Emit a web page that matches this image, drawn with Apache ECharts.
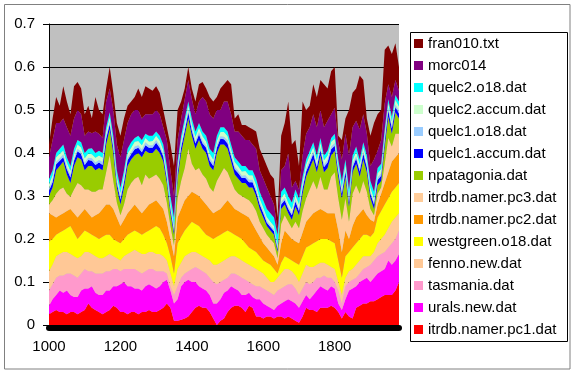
<!DOCTYPE html>
<html>
<head>
<meta charset="utf-8">
<script src="https://cdn.jsdelivr.net/npm/echarts@6/dist/echarts.min.js"></script>
<style>html,body{margin:0;padding:0;background:#fff}#c{width:576px;height:374px}</style>
</head>
<body>
<div id="c"></div>
<script>
var years = [1000,1010,1020,1030,1040,1050,1060,1070,1080,1090,1100,1110,1120,1130,1140,1150,1160,1170,1180,1190,1200,1210,1220,1230,1240,1250,1260,1270,1280,1290,1300,1310,1320,1330,1340,1350,1360,1370,1380,1390,1400,1410,1420,1430,1440,1450,1460,1470,1480,1490,1500,1510,1520,1530,1540,1550,1560,1570,1580,1590,1600,1610,1620,1630,1640,1650,1660,1670,1680,1690,1700,1710,1720,1730,1740,1750,1760,1770,1780,1790,1800,1810,1820,1830,1840,1850,1860,1870,1880,1890,1900,1910,1920,1930,1940,1950,1960,1970,1980];
var xTickLabels = ['1000','1200','1400','1600','1800'];
var yTickLabels = ['0','0.1','0.2','0.3','0.4','0.5','0.6','0.7'];

var itrdbNamerPc1 = [.025,.03,.035,.03,.03,.025,.03,.03,.025,.03,
 .035,.05,.04,.035,.03,.025,.03,.035,.045,.04,
 .03,.03,.025,.03,.03,.025,.03,.03,.035,.03,
 .03,.035,.04,.05,.04,.01,.01,.012,.015,.02,
 .03,.04,.045,.04,.04,.03,.015,0,.01,.015,
 .03,.04,.045,.045,.04,.03,.045,.04,.02,.02,
 .015,.02,.02,.015,.02,.02,.015,.02,.015,.01,
 .005,.02,.04,.035,.035,.03,.04,.04,.04,.045,
 .04,.03,.015,.03,.02,.015,.04,.045,.05,.05,
 .055,.055,.06,.065,.07,.07,.07,.08,.10];
var uralsNew = [.02,.03,.035,.05,.045,.055,.04,.035,.04,.05,
 .05,.035,.05,.04,.04,.045,.05,.045,.045,.05,
 .065,.07,.065,.06,.055,.06,.05,.06,.06,.06,
 .055,.055,.06,.055,.04,.04,.05,.078,.085,.085,
 .07,.06,.045,.045,.04,.04,.035,.05,.05,.06,
 .05,.05,.04,.035,.03,.04,.03,.025,.04,.04,
 .035,.025,.02,.02,.025,.03,.04,.04,.04,.04,
 .035,.035,.03,.025,.035,.05,.05,.045,.04,.045,
 .045,.02,.02,.03,.06,.07,.05,.055,.055,.06,
 .045,.055,.06,.06,.06,.08,.07,.07,.065];
var tasmania = [.035,.035,.04,.035,.04,.04,.05,.05,.045,.04,
 .045,.04,.035,.045,.05,.05,.045,.045,.04,.04,
 .03,.03,.04,.04,.045,.04,.04,.035,.035,.04,
 .04,.035,.025,.015,.01,.02,.03,.02,.02,.02,
 .03,.035,.04,.04,.04,.04,.05,.045,.04,.03,
 .03,.03,.035,.035,.04,.035,.025,.03,.03,.03,
 .035,.035,.035,.035,.035,.035,.035,.035,.04,.035,
 .03,.03,.03,.035,.03,.03,.02,.03,.03,.02,
 .015,.03,.015,.03,.02,.02,.02,.02,.025,.025,
 .04,.04,.04,.04,.04,.03,.05,.05,.055];
var fennoNew = [.045,.045,.05,.05,.055,.05,.045,.045,.045,.04,
 .04,.045,.04,.04,.035,.035,.035,.04,.03,.025,
 .025,.03,.035,.04,.045,.045,.045,.04,.04,.04,
 .04,.04,.035,.03,.03,.02,.04,.035,.04,.04,
 .04,.035,.035,.035,.035,.04,.04,.045,.045,.045,
 .045,.04,.04,.04,.04,.04,.04,.04,.04,.035,
 .035,.03,.025,.03,.03,.035,.04,.035,.03,.03,
 .03,.035,.04,.04,.035,.03,.035,.03,.03,.025,
 .03,.02,.02,.02,.025,.025,.03,.03,.03,.025,
 .02,.02,.03,.035,.04,.045,.05,.05,.04];
var westgreenO18 = [.07,.06,.05,.05,.05,.055,.065,.055,.045,.05,
 .05,.045,.045,.045,.045,.05,.05,.045,.04,.04,
 .04,.04,.045,.045,.045,.045,.045,.05,.05,.055,
 .065,.06,.05,.04,.04,.03,.06,.06,.06,.065,
 .07,.065,.065,.06,.055,.055,.06,.065,.065,.065,
 .065,.055,.05,.05,.05,.045,.04,.04,.04,.035,
 .03,.035,.04,.03,.01,.025,.03,.025,.025,.03,
 .04,.04,.04,.05,.055,.055,.055,.055,.06,.06,
 .06,.05,.04,.05,.045,.05,.05,.05,.05,.05,
 .045,.045,.06,.065,.07,.07,.07,.07,.07];
var itrdbNamerPc2 = [.065,.055,.04,.04,.04,.04,.04,.045,.05,.05,
 .05,.045,.04,.05,.06,.065,.07,.07,.07,.055,
 .04,.045,.05,.055,.06,.055,.05,.055,.06,.06,
 .06,.055,.06,.05,.04,.04,.06,.065,.07,.07,
 .07,.07,.07,.07,.07,.065,.06,.06,.06,.065,
 .07,.065,.06,.06,.06,.065,.07,.06,.05,.045,
 .04,.035,.03,.03,.02,.045,.06,.055,.05,.05,
 .05,.055,.06,.065,.07,.07,.07,.065,.06,.065,
 .07,.07,.06,.06,.03,.05,.06,.06,.06,.045,
 .04,.025,.03,.04,.05,.06,.07,.07,.07];
var itrdbNamerPc3 = [.02,.035,.055,.06,.06,.04,.028,.055,.08,.065,
 .045,.055,.06,.055,.055,.045,.075,.115,.065,.035,
 .025,.035,.055,.06,.06,.075,.065,.08,.06,.06,
 .06,.06,.055,.045,.03,.025,.045,.065,.075,.11,
 .065,.055,.065,.06,.06,.05,.05,.07,.08,.085,
 .065,.055,.045,.04,.04,.04,.04,.045,.045,.035,
 .035,.03,.03,.03,.015,.045,.035,.03,.025,.045,
 .035,.05,.055,.065,.075,.05,.075,.05,.055,.085,
 .095,.075,.075,.075,.04,.075,.075,.045,.065,.055,
 .025,.015,.025,.015,.045,.08,.035,.055,.045];
var npatagonia = [.02,.03,.055,.055,.06,.045,.032,.055,.06,.06,
 .045,.055,.06,.05,.05,.045,.065,.06,.065,.035,
 .025,.04,.055,.055,.055,.055,.065,.055,.06,.055,
 .06,.06,.055,.045,.03,.025,.045,.065,.075,.07,
 .065,.05,.065,.06,.06,.05,.05,.065,.07,.055,
 .055,.045,.035,.035,.03,.035,.03,.04,.035,.03,
 .025,.02,.02,.02,.015,.035,.025,.02,.02,.035,
 .03,.04,.05,.05,.05,.04,.05,.04,.05,.05,
 .05,.05,.05,.05,.035,.05,.05,.04,.05,.045,
 .025,.015,.02,.015,.04,.05,.03,.05,.035];
var quelc1Accum = [.012,.012,.014,.012,.01,.012,.013,.012,.014,.012,
 .012,.014,.012,.012,.013,.012,.014,.012,.012,.01,
 .012,.012,.013,.012,.014,.012,.012,.013,.012,.012,
 .014,.012,.012,.01,.01,.008,.012,.013,.012,.014,
 .012,.012,.013,.012,.012,.012,.01,.012,.013,.012,
 .012,.012,.012,.013,.012,.012,.012,.012,.01,.01,
 .01,.008,.008,.008,.006,.01,.01,.01,.01,.012,
 .01,.012,.012,.012,.013,.012,.012,.012,.013,.014,
 .012,.012,.01,.012,.01,.012,.012,.012,.013,.012,
 .01,.01,.012,.012,.013,.014,.012,.012,.012];
var quelc1O18 = [.006,.006,.005,.006,.007,.006,.006,.005,.006,.006,
 .006,.005,.006,.006,.006,.007,.006,.006,.005,.006,
 .006,.006,.006,.005,.006,.006,.006,.007,.006,.006,
 .006,.006,.005,.006,.006,.005,.006,.006,.006,.007,
 .006,.006,.006,.006,.005,.006,.006,.006,.006,.006,
 .007,.006,.006,.006,.005,.006,.006,.006,.006,.005,
 .005,.005,.004,.004,.004,.006,.006,.005,.005,.006,
 .006,.006,.006,.007,.006,.006,.006,.006,.006,.006,
 .006,.005,.006,.006,.005,.006,.006,.006,.006,.006,
 .005,.005,.006,.006,.006,.007,.006,.006,.006];
var quelc2Accum = [.01,.01,.011,.01,.009,.01,.01,.011,.01,.01,
 .01,.01,.009,.011,.01,.01,.01,.011,.01,.01,
 .009,.01,.01,.01,.011,.01,.01,.01,.009,.01,
 .01,.011,.01,.01,.009,.008,.01,.01,.011,.01,
 .01,.01,.01,.011,.01,.01,.009,.01,.01,.011,
 .01,.01,.011,.01,.01,.01,.01,.01,.009,.009,
 .008,.008,.008,.008,.006,.01,.01,.009,.009,.01,
 .009,.01,.01,.011,.01,.01,.011,.01,.01,.011,
 .01,.01,.009,.01,.009,.01,.01,.011,.01,.01,
 .009,.009,.01,.01,.011,.01,.01,.011,.01];
var quelc2O18 = [.012,.012,.01,.012,.014,.012,.011,.012,.01,.012,
 .012,.011,.014,.011,.011,.011,.01,.011,.013,.014,
 .013,.012,.011,.013,.009,.012,.012,.01,.013,.012,
 .01,.011,.013,.014,.015,.019,.012,.011,.011,.009,
 .012,.012,.011,.011,.013,.012,.015,.012,.011,.011,
 .011,.012,.011,.011,.013,.012,.012,.012,.015,.016,
 .017,.019,.02,.02,.024,.014,.014,.016,.016,.012,
 .015,.012,.012,.01,.011,.012,.011,.012,.011,.009,
 .012,.013,.015,.012,.016,.012,.012,.011,.011,.012,
 .016,.016,.012,.012,.01,.009,.012,.011,.012];
var morc014 = [.05,.07,.07,.06,.06,.07,.07,.07,.07,.065,
 .04,.04,.035,.05,.04,.035,.06,.055,.06,.06,
 .07,.07,.06,.065,.065,.06,.05,.045,.05,.05,
 .05,.05,.04,.06,.06,.05,.05,.04,.045,.05,
 .045,.04,.05,.08,.08,.08,.08,.06,.04,.06,
 .07,.07,.06,.07,.07,.06,.07,.06,.07,.05,
 .05,.05,.04,.03,.01,.05,.05,.10,.035,.02,
 .02,.05,.06,.055,.065,.065,.065,.065,.07,.055,
 .06,.04,.05,.06,.08,.065,.06,.07,.065,.05,
 .035,.075,.04,.055,.06,.035,.045,.035,.025];
var fran010 = [.03,.05,.06,.04,.075,.06,.05,.075,.065,.06,
 .05,.06,.035,.08,.055,.055,.03,.05,.04,.05,
 .05,.05,.04,.03,.03,.05,.05,.065,.06,.055,
 .055,.05,.04,.03,.06,.07,.07,.04,.025,.03,
 .025,.03,.04,.035,.03,.04,.04,.03,.05,.04,
 .05,.07,.03,.04,.025,.035,.03,.035,.04,.05,
 .05,.05,.05,.06,.03,.08,.10,.12,.10,.095,
 .055,.125,.055,.05,.07,.07,.07,.10,.075,.10,
 .095,.015,.045,.035,.105,.08,.075,.125,.08,.035,
 .07,.085,.085,.07,.125,.09,.10,.085,.055];

// bottom-to-top stacking order
var seriesNames = ['itrdb.namer.pc1.dat','urals.new.dat','tasmania.dat','fenno.new.dat','westgreen.o18.dat','itrdb.namer.pc2.dat','itrdb.namer.pc3.dat','npatagonia.dat','quelc1.accum.dat','quelc1.o18.dat','quelc2.accum.dat','quelc2.o18.dat','morc014','fran010.txt'];
var seriesValues = [itrdbNamerPc1,uralsNew,tasmania,fennoNew,westgreenO18,itrdbNamerPc2,itrdbNamerPc3,npatagonia,quelc1Accum,quelc1O18,quelc2Accum,quelc2O18,morc014,fran010];
var seriesColors = ['#FF0000','#FF00FF','#FF99CC','#FFC896','#FFFF00','#FF9900','#FFCC99','#99CC00','#0000FF','#99CCFF','#CCFFCC','#00FFFF','#800080','#800000'];

var chart = echarts.init(document.getElementById('c'), null, {renderer:'canvas'});
var font = 'Liberation Sans, Arial, sans-serif';
var series = seriesNames.map(function(n, i){
  return {
    name: n, type: 'line', stack: 'total', symbol: 'none', smooth: false,
    lineStyle: {width: 0}, itemStyle: {color: seriesColors[i]},
    areaStyle: {color: seriesColors[i], opacity: 1},
    emphasis: {disabled: true},
    data: seriesValues[i]
  };
});
chart.setOption({
  animation: false,
  backgroundColor: '#ffffff',
  grid: {left: 49, top: 24, width: 350, height: 301, show: true, backgroundColor: '#C0C0C0', borderWidth: 0},
  xAxis: {
    type: 'category', data: years.map(String), boundaryGap: false, offset: 3,
    axisLine: {show: true, onZero: false, lineStyle: {color: '#000', width: 6}},
    axisTick: {show: false}, splitLine: {show: false},
    axisLabel: {fontSize: 15, fontFamily: font, color: '#000', margin: 11, interval: 0,
      formatter: function(v){ return xTickLabels.indexOf(v) >= 0 ? v : ''; }}
  },
  yAxis: {
    type: 'value', min: 0, max: 0.7, interval: 0.1,
    axisLine: {show: true, lineStyle: {color: '#000', width: 1}},
    axisTick: {show: true, inside: false, length: 6, lineStyle: {color: '#000'}},
    splitLine: {show: true, lineStyle: {color: '#000', width: 1}},
    axisLabel: {fontSize: 15, fontFamily: font, color: '#000', margin: 14,
      formatter: function(v){ return yTickLabels[Math.round(v * 10)]; }}
  },
  legend: {
    orient: 'vertical', left: 414, top: 36, padding: 0, itemGap: 7,
    itemWidth: 9, itemHeight: 9, icon: 'rect',
    data: seriesNames.slice().reverse(),
    textStyle: {fontSize: 15, fontFamily: font, color: '#000', lineHeight: 15},
    selectedMode: false
  },
  graphic: [
    {type: 'rect', shape: {x: 4.5, y: 4.5, width: 565.5, height: 364.5}, style: {fill: 'none', stroke: '#808080', lineWidth: 1}, silent: true},
    {type: 'rect', shape: {x: 410.5, y: 32.5, width: 157, height: 309}, style: {fill: 'none', stroke: '#000', lineWidth: 1}, silent: true}
  ],
  series: series
});
</script>
</body>
</html>
